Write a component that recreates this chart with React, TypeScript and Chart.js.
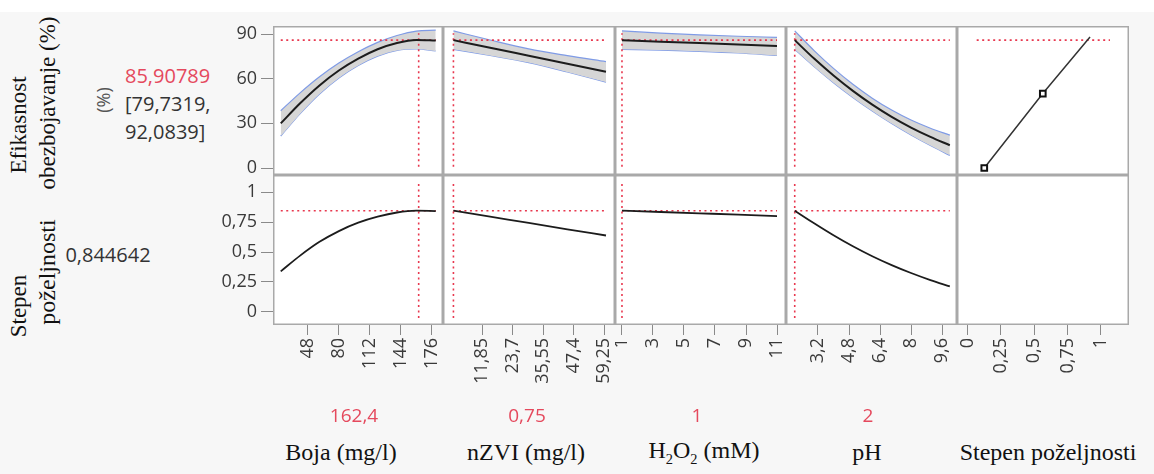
import React, { useEffect, useRef } from 'react';
import { Chart, registerables } from 'chart.js';

Chart.register(...registerables);

// ---------- data ----------
const factorNames = ['Boja (mg/l)', 'nZVI (mg/l)', 'H2O2 (mM)', 'pH', 'Stepen poželjnosti'];
const currentValueLabels = ['162,4', '0,75', '1', '2'];
const currentValues = [162.4, 0.75, 1, 2];
const predictedLabel = '85,90789';
const ciLabel1 = '[79,7319,';
const ciLabel2 = '92,0839]';
const desirabilityLabel = '0,844642';
const predicted = 85.90789;
const desirability = 0.844642;

const bojaX = [20, 40, 60, 80, 100, 120, 140, 160, 180];
const bojaResp = [30.0, 43.5, 55.5, 65.5, 73.5, 79.8, 84.0, 86.0, 85.6];
const bojaUpper = [38.5, 50.5, 61.3, 70.5, 78.1, 84.4, 89.0, 92.0, 92.6];
const bojaLower = [21.5, 36.5, 49.7, 60.5, 68.9, 75.2, 79.0, 80.0, 78.6];
const bojaDes = [0.339, 0.47, 0.585, 0.675, 0.745, 0.795, 0.83, 0.845, 0.842];

const nzviX = [0.75, 15, 30, 45, 60];
const nzviResp = [85.9, 80.8, 75.4, 70.0, 64.6];
const nzviUpper = [92.1, 86.0, 80.0, 75.5, 71.5];
const nzviLower = [79.7, 75.6, 70.8, 64.5, 57.7];
const nzviDes = [0.845, 0.795, 0.743, 0.69, 0.638];

const h2o2X = [1, 3.5, 6, 8.5, 11];
const h2o2Resp = [85.9, 84.9, 83.9, 82.9, 81.9];
const h2o2Upper = [92.1, 90.6, 89.4, 88.5, 87.8];
const h2o2Lower = [79.7, 79.2, 78.4, 77.3, 75.6];
const h2o2Des = [0.845, 0.834, 0.823, 0.812, 0.8];

const phX = [2, 3, 4, 5, 6, 7, 8, 9, 10];
const phResp = [85.9, 73.5, 62.1, 51.8, 42.6, 34.4, 27.2, 20.9, 15.3];
const phUpper = [92.1, 78.9, 66.9, 56.2, 46.9, 38.9, 32.2, 26.7, 22.1];
const phLower = [79.7, 68.1, 57.3, 47.4, 38.3, 29.9, 22.2, 15.1, 8.5];
const phDes = [0.845, 0.74, 0.64, 0.548, 0.465, 0.391, 0.325, 0.266, 0.213];

// desirability function (x: desirability, y: response)
const desFnX = [0.125, 0.565, 0.92];
const desFnY = [0, 50, 88];
const desFnMarkers = [true, true, false];
const desRefSpan = [0.068, 1.07];

const respTicks = [0, 30, 60, 90];
const desTicks = [0, 0.25, 0.5, 0.75, 1];
const bojaTicks = [48, 80, 112, 144, 176];
const nzviTicks = [11.85, 23.7, 35.55, 47.4, 59.25];
const h2o2Ticks = [1, 3, 5, 7, 9, 11];
const phTicks = [3.2, 4.8, 6.4, 8, 9.6];
const desXTicks = [0, 0.25, 0.5, 0.75, 1];

const vLineSpanResp = [0.9, 90.5];
const vLineSpanDes = [-0.05, 1.07];

// ---------- layout / style ----------
const COLS = [273, 443, 615, 786, 957, 1129];
const ROWS = [26, 175, 325];
const X_RANGES = [[12, 187.5], [-3.3, 63.5], [0.55, 11.58], [1.55, 10.37], [-0.08, 1.213]];
const Y_RANGES = [[-4.7, 95.4], [-0.109, 1.143]];
const Y_AXIS_W = 62;
const X_AXIS_H = 80;
const RED = '#e8384f';
const RED_TEXT = '#e5495d';
const BLUE = '#7f9be6';
const BAND = '#d6d6d6';
const FRAME = '#a9a9a9';
const TICK_FONT = { family: '"Open Sans", "Noto Sans", sans-serif', size: 18 };
const SANS = '"Open Sans", "Noto Sans", sans-serif';
const SERIF = '"Liberation Serif", "Times New Roman", serif';

const fmt = (v: number) => String(v).replace('.', ',');
const pts = (xs: number[], ys: number[]) => xs.map((x, i) => ({ x, y: ys[i] }));

const framePlugin = {
  id: 'frame',
  beforeDraw(chart: any) {
    const { ctx, chartArea: a } = chart;
    ctx.save();
    ctx.fillStyle = '#ffffff';
    ctx.fillRect(a.left, a.top, a.right - a.left, a.bottom - a.top);
    ctx.restore();
  },
  afterDraw(chart: any) {
    const { ctx, chartArea: a } = chart;
    ctx.save();
    ctx.strokeStyle = FRAME;
    ctx.lineWidth = 1.5;
    ctx.strokeRect(a.left + 0.75, a.top + 0.75, a.right - a.left - 1.5, a.bottom - a.top - 1.5);
    ctx.restore();
  },
};

const factorData = [
  { x: bojaX, resp: bojaResp, up: bojaUpper, lo: bojaLower, des: bojaDes, ticks: bojaTicks },
  { x: nzviX, resp: nzviResp, up: nzviUpper, lo: nzviLower, des: nzviDes, ticks: nzviTicks },
  { x: h2o2X, resp: h2o2Resp, up: h2o2Upper, lo: h2o2Lower, des: h2o2Des, ticks: h2o2Ticks },
  { x: phX, resp: phResp, up: phUpper, lo: phLower, des: phDes, ticks: phTicks },
];

const zeroPad = (s: any) => {
  s.paddingLeft = 0;
  s.paddingRight = 0;
  s.paddingTop = 0;
  s.paddingBottom = 0;
};

function buildConfig(r: number, c: number) {
  const showY = c === 0;
  const showX = r === 1;
  const xTicks = c < 4 ? factorData[c].ticks : desXTicks;
  const yTicks = r === 0 ? respTicks : desTicks;
  const datasets: any[] = [];
  const line = (data: any[], color: string, width: number, extra: any = {}) => ({
    data,
    borderColor: color,
    borderWidth: width,
    pointRadius: 0,
    fill: false,
    tension: 0,
    ...extra,
  });
  const dash = { borderDash: [2, 3.5], order: 1 };
  if (c < 4) {
    const f = factorData[c];
    const x0 = f.x[0];
    const x1 = f.x[f.x.length - 1];
    if (r === 0) {
      datasets.push(line(pts(f.x, f.up), BLUE, 1.2, { fill: 1, backgroundColor: BAND, cubicInterpolationMode: 'monotone', order: 3 }));
      datasets.push(line(pts(f.x, f.lo), BLUE, 1.2, { cubicInterpolationMode: 'monotone', order: 3 }));
      datasets.push(line(pts(f.x, f.resp), '#1c1c1c', 2, { cubicInterpolationMode: 'monotone', order: 0 }));
      datasets.push(line([{ x: x0, y: predicted }, { x: x1, y: predicted }], RED, 1.6, dash));
      datasets.push(line([{ x: currentValues[c], y: vLineSpanResp[0] }, { x: currentValues[c], y: vLineSpanResp[1] }], RED, 1.6, dash));
    } else {
      datasets.push(line(pts(f.x, f.des), '#1c1c1c', 1.8, { cubicInterpolationMode: 'monotone', order: 0 }));
      datasets.push(line([{ x: x0, y: desirability }, { x: x1, y: desirability }], RED, 1.6, dash));
      datasets.push(line([{ x: currentValues[c], y: vLineSpanDes[0] }, { x: currentValues[c], y: vLineSpanDes[1] }], RED, 1.6, dash));
    }
  } else if (r === 0) {
    datasets.push(
      line(pts(desFnX, desFnY), '#333333', 1.5, {
        order: 0,
        pointRadius: desFnMarkers.map((m) => (m ? 4 : 0)),
        pointStyle: 'rect',
        pointBorderColor: '#111111',
        pointBorderWidth: 2,
        pointBackgroundColor: '#ffffff',
      })
    );
    datasets.push(line([{ x: desRefSpan[0], y: predicted }, { x: desRefSpan[1], y: predicted }], RED, 1.6, dash));
  }

  return {
    type: 'line',
    data: { datasets },
    options: {
      animation: false,
      responsive: false,
      maintainAspectRatio: false,
      devicePixelRatio: 1,
      layout: { padding: 0, autoPadding: false },
      plugins: { legend: { display: false }, tooltip: { enabled: false } },
      events: [],
      scales: {
        x: {
          type: 'linear',
          min: X_RANGES[c][0],
          max: X_RANGES[c][1],
          display: showX,
          position: 'bottom',
          afterBuildTicks: (s: any) => {
            s.ticks = xTicks.map((v) => ({ value: v }));
          },
          afterFit: (s: any) => {
            s.height = showX ? X_AXIS_H : 0;
            zeroPad(s);
          },
          ticks: {
            autoSkip: false,
            minRotation: 90,
            maxRotation: 90,
            padding: 3,
            color: '#3a3a3a',
            font: TICK_FONT,
            callback: (v: any) => fmt(Number(v)),
          },
          grid: { drawOnChartArea: false, drawTicks: true, tickLength: 10, color: '#8a8a8a' },
          border: { display: false },
        },
        y: {
          type: 'linear',
          min: Y_RANGES[r][0],
          max: Y_RANGES[r][1],
          display: showY,
          position: 'left',
          afterBuildTicks: (s: any) => {
            s.ticks = yTicks.map((v) => ({ value: v }));
          },
          afterFit: (s: any) => {
            s.width = showY ? Y_AXIS_W : 0;
            zeroPad(s);
          },
          ticks: {
            autoSkip: false,
            padding: 4,
            color: '#3a3a3a',
            font: TICK_FONT,
            callback: (v: any) => fmt(Number(v)),
          },
          grid: { drawOnChartArea: false, drawTicks: true, tickLength: 12, color: '#8a8a8a' },
          border: { display: false },
        },
      },
    },
    plugins: [framePlugin],
  } as any;
}

const panels: { r: number; c: number; left: number; top: number; w: number; h: number }[] = [];
for (let r = 0; r < 2; r++) {
  for (let c = 0; c < 5; c++) {
    const extraL = c === 0 ? Y_AXIS_W : 0;
    const extraB = r === 1 ? X_AXIS_H : 0;
    panels.push({
      r,
      c,
      left: COLS[c] - extraL,
      top: ROWS[r],
      w: COLS[c + 1] - COLS[c] + extraL,
      h: ROWS[r + 1] - ROWS[r] + extraB,
    });
  }
}

const rotated = (text: React.ReactNode, cx: number, cy: number, style: React.CSSProperties) => (
  <div
    style={{
      position: 'absolute',
      left: cx,
      top: cy,
      transform: 'translate(-50%, -50%) rotate(-90deg)',
      whiteSpace: 'nowrap',
      lineHeight: 1,
      ...style,
    }}
  >
    {text}
  </div>
);

const centered = (text: React.ReactNode, cx: number, cy: number, style: React.CSSProperties) => (
  <div
    style={{
      position: 'absolute',
      left: cx,
      top: cy,
      transform: 'translate(-50%, -50%)',
      whiteSpace: 'nowrap',
      lineHeight: 1,
      ...style,
    }}
  >
    {text}
  </div>
);

export default function App() {
  const refs = useRef<(HTMLCanvasElement | null)[]>([]);
  useEffect(() => {
    document.body.style.margin = '0';
    const charts = panels.map((p, i) => new Chart(refs.current[i] as HTMLCanvasElement, buildConfig(p.r, p.c)));
    return () => charts.forEach((ch) => ch.destroy());
  }, []);

  const serif: React.CSSProperties = { fontFamily: SERIF, fontSize: 23, color: '#111' };
  const sans: React.CSSProperties = { fontFamily: SANS, fontSize: 20, color: '#333' };
  const labelCenters = [341, 526, 704, 867, 1048];
  const valueCenters = [354, 527, 697, 868];

  return (
    <div style={{ position: 'absolute', left: 0, top: 0, width: 1154, height: 474, background: '#f7f7f7', overflow: 'hidden' }}>
      <div style={{ position: 'absolute', left: 0, top: 0, width: 1154, height: 12, background: '#ffffff' }} />
      {panels.map((p, i) => (
        <canvas
          key={i}
          ref={(el) => {
            refs.current[i] = el;
          }}
          width={p.w}
          height={p.h}
          style={{ position: 'absolute', left: p.left, top: p.top, width: p.w, height: p.h }}
        />
      ))}
      {rotated('Efikasnost', 18, 125, serif)}
      {rotated('obezbojavanje (%)', 47, 103, serif)}
      {rotated('Stepen', 18, 306, serif)}
      {rotated('poželjnosti', 47, 272, { ...serif, fontSize: 24 })}
      {rotated('(%)', 103, 100, { ...sans, fontSize: 18, color: '#555' })}
      <div style={{ position: 'absolute', left: 125, top: 62, fontFamily: SANS, fontSize: 20, lineHeight: '28px', color: '#333', whiteSpace: 'nowrap' }}>
        <div style={{ color: RED_TEXT }}>{predictedLabel}</div>
        <div>{ciLabel1}</div>
        <div>{ciLabel2}</div>
      </div>
      {centered(desirabilityLabel, 108, 255, sans)}
      {currentValueLabels.map((t, i) => centered(t, valueCenters[i], 415, { ...sans, color: RED_TEXT, fontSize: 19 }))}
      {factorNames.map((n, i) =>
        centered(
          n === 'H2O2 (mM)' ? (
            <span>
              H<sub style={{ fontSize: '60%' }}>2</sub>O<sub style={{ fontSize: '60%' }}>2</sub> (mM)
            </span>
          ) : (
            n
          ),
          labelCenters[i],
          452,
          { ...serif, fontSize: 24 }
        )
      )}
    </div>
  );
}
